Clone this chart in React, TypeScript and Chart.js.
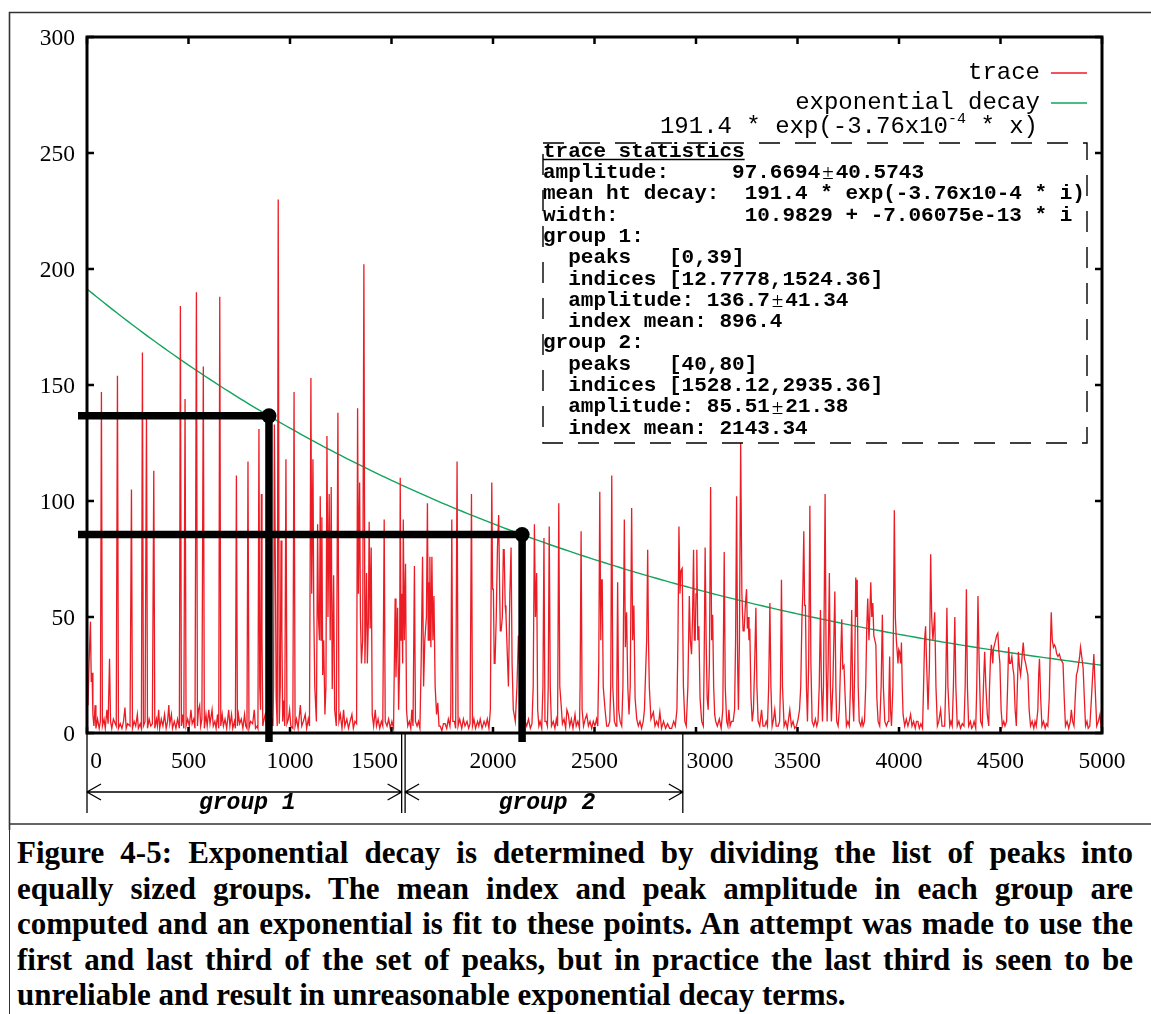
import React, { useEffect, useRef } from 'react';
import { Chart, registerables } from 'chart.js';

Chart.register(...registerables);

// ---- data ----
const X_TICKS = [0, 500, 1000, 1500, 2000, 2500, 3000, 3500, 4000, 4500, 5000];
const Y_TICKS = [0, 50, 100, 150, 200, 250, 300];

// detector trace: [sample index, height]
const TRACE: [number, number][] = [
  [0, 20], [5, 12], [10, 30], [17, 48], [21, 22], [25, 26], [29, 8], [34, 3], [40, 12], [44, 2], [52, 6], [60, 2],
  [66, 5], [71, 147], [76, 3], [84, 6], [90, 2], [98, 10], [104, 4], [111, 32], [116, 5], [122, 2], [130, 6],
  [144, 3], [150, 154], [155, 2], [164, 4], [172, 2], [180, 5], [187, 11], [193, 2], [200, 4], [212, 3],
  [219, 105], [224, 2], [232, 5], [240, 3], [248, 8], [253, 2], [262, 4],
  [268, 2], [273, 164], [278, 3], [286, 5], [293, 137], [298, 2], [306, 6], [314, 3], [322, 4],
  [329, 113], [334, 2], [342, 6], [347, 3], [353, 10], [358, 2], [366, 6], [374, 3], [382, 8], [390, 2],
  [397, 5], [403, 12], [408, 4], [416, 8], [421, 2], [430, 5], [438, 2], [446, 6],
  [455, 2], [460, 184], [465, 3], [471, 8], [477, 2], [483, 144], [488, 3], [496, 6], [504, 3], [512, 10], [518, 4], [526, 6], [532, 2],
  [539, 190], [544, 3], [549, 10], [555, 12], [560, 3], [566, 6], [573, 158], [578, 2], [586, 8], [592, 3], [600, 10], [606, 4], [616, 10], [622, 3], [630, 5], [636, 2], [643, 8], [649, 2],
  [654, 188], [659, 3], [666, 8], [672, 3], [680, 6], [688, 2], [698, 10], [704, 3], [712, 8], [718, 2], [726, 5],
  [731, 2], [736, 111], [741, 3], [746, 8], [752, 4], [760, 6], [768, 2], [776, 8], [782, 3], [788, 2], [793, 117], [798, 2], [806, 5], [816, 4], [824, 10], [830, 2], [838, 3],
  [842, 2], [847, 131], [851, 20], [855, 10], [859, 103], [862, 42], [866, 3],
  [870, 5], [878, 8], [884, 3], [892, 5], [900, 2], [910, 6], [916, 3],
  [919, 20], [923, 133], [927, 83], [932, 15], [937, 3], [942, 230], [947, 4], [952, 20], [956, 83], [960, 44], [964, 5], [969, 14], [974, 3],
  [980, 118], [985, 4], [992, 6], [998, 10], [1004, 3], [1014, 2], [1020, 147], [1025, 3], [1032, 6], [1040, 2], [1051, 12], [1058, 3], [1066, 5], [1075, 8], [1082, 2], [1090, 6], [1096, 3],
  [1103, 153], [1107, 60], [1113, 118], [1117, 54], [1122, 20], [1130, 5], [1136, 90], [1140, 50], [1145, 40], [1149, 102], [1153, 40], [1157, 93], [1161, 25], [1166, 40], [1172, 8], [1177, 20],
  [1182, 128], [1187, 50], [1193, 103], [1198, 40], [1203, 106], [1208, 19], [1215, 68], [1220, 10], [1228, 3], [1236, 138], [1241, 5], [1248, 8], [1256, 2], [1264, 10], [1270, 3], [1280, 6], [1288, 2], [1296, 5], [1305, 8], [1312, 2], [1320, 5], [1328, 4],
  [1333, 140], [1337, 60], [1343, 108], [1347, 50], [1352, 30], [1358, 40], [1364, 202], [1369, 30], [1373, 48], [1377, 69], [1381, 30], [1386, 48], [1390, 91], [1395, 45], [1400, 80], [1405, 8], [1412, 3], [1420, 10], [1426, 3], [1434, 6], [1442, 2], [1450, 5], [1457, 3],
  [1464, 92], [1469, 5], [1478, 3], [1486, 6], [1494, 2], [1502, 5], [1510, 2],
  [1518, 58], [1522, 24], [1526, 40], [1530, 54], [1535, 10], [1540, 30], [1543, 110], [1547, 40], [1551, 60], [1555, 30], [1558, 92], [1563, 40], [1569, 73], [1574, 10], [1580, 3], [1588, 5], [1595, 2], [1600, 10], [1606, 3],
  [1613, 72], [1618, 5], [1626, 3], [1633, 5], [1640, 2], [1646, 30], [1653, 76], [1658, 20], [1664, 40], [1672, 50], [1677, 99], [1681, 40], [1684, 65], [1686, 40], [1689, 76], [1694, 37], [1699, 76], [1704, 40], [1709, 59], [1715, 20], [1722, 8], [1728, 13], [1734, 3], [1740, 3], [1748, 1], [1756, 4], [1764, 4], [1772, 2], [1780, 6], [1788, 3],
  [1792, 8], [1797, 92], [1802, 5], [1810, 5], [1816, 2], [1823, 117], [1828, 3], [1836, 6], [1846, 2], [1854, 6], [1862, 3], [1872, 5], [1880, 2], [1887, 4],
  [1894, 103], [1899, 3], [1906, 6], [1914, 2], [1924, 5], [1930, 3], [1937, 6], [1946, 2], [1956, 5], [1964, 3], [1972, 6], [1980, 2], [1987, 10],
  [1994, 108], [1998, 62], [2002, 62], [2006, 30], [2010, 30], [2016, 50], [2022, 80], [2028, 94], [2033, 60], [2036, 44], [2040, 44], [2046, 50], [2051, 79], [2055, 79], [2060, 55], [2064, 51], [2070, 35], [2076, 20], [2083, 60], [2089, 80], [2094, 30], [2100, 10], [2110, 5], [2118, 20], [2125, 42], [2130, 30], [2137, 30], [2142, 35], [2147, 41], [2152, 15], [2158, 5],
  [2166, 3], [2175, 6], [2184, 2], [2192, 4], [2198, 20], [2204, 90], [2209, 50], [2215, 69], [2220, 10], [2226, 3], [2232, 5], [2240, 2], [2246, 20], [2251, 84], [2256, 5], [2262, 5], [2268, 3], [2272, 20], [2277, 89], [2282, 20], [2288, 3], [2297, 5], [2305, 2], [2312, 6], [2318, 3],
  [2324, 99], [2329, 20], [2335, 13], [2342, 4], [2350, 6], [2358, 2], [2364, 10], [2371, 8], [2378, 3], [2386, 6], [2394, 2], [2404, 8], [2410, 3], [2418, 5], [2426, 2],
  [2429, 20], [2434, 87], [2439, 10], [2446, 3], [2454, 6], [2462, 8], [2470, 3], [2478, 5], [2486, 2], [2494, 5], [2502, 3], [2510, 6], [2516, 3],
  [2521, 30], [2526, 104], [2531, 40], [2534, 66], [2538, 66], [2543, 20], [2552, 10], [2560, 3], [2568, 3], [2575, 5], [2580, 20], [2585, 111], [2590, 20], [2598, 5], [2606, 3], [2610, 20], [2614, 65], [2619, 10], [2626, 5], [2634, 3],
  [2640, 20], [2647, 92], [2652, 37], [2658, 52], [2664, 20], [2670, 8], [2676, 20], [2683, 97], [2688, 40], [2694, 55], [2700, 15], [2708, 6], [2716, 3], [2724, 5], [2732, 2], [2740, 5], [2746, 10], [2752, 27], [2757, 40], [2762, 79], [2766, 40], [2770, 20], [2778, 6],
  [2790, 9], [2798, 3], [2806, 5], [2814, 3], [2822, 9], [2830, 2], [2840, 5], [2850, 2], [2860, 4], [2870, 2], [2880, 2], [2890, 5], [2898, 3], [2906, 10],
  [2911, 40], [2916, 89], [2921, 60], [2926, 70], [2932, 71], [2938, 20], [2945, 5], [2952, 3], [2960, 20], [2967, 59], [2972, 40], [2978, 34], [2983, 50], [2988, 79], [2992, 40], [2996, 40], [3000, 60], [3004, 79], [3009, 40], [3014, 46], [3020, 15], [3028, 5], [3036, 3],
  [3040, 30], [3045, 80], [3050, 40], [3055, 15], [3060, 10], [3066, 30], [3072, 106], [3077, 40], [3082, 51], [3087, 20], [3092, 8], [3097, 5], [3105, 3], [3115, 6], [3124, 2], [3132, 10], [3139, 78], [3144, 20], [3151, 5], [3157, 3], [3162, 10], [3168, 3], [3175, 5], [3183, 5], [3190, 10],
  [3195, 40], [3200, 102], [3205, 30], [3209, 10], [3214, 40], [3220, 125], [3226, 60], [3232, 44], [3237, 44], [3243, 55], [3249, 62], [3253, 45], [3257, 50], [3261, 40], [3265, 45], [3271, 15], [3277, 5], [3283, 10], [3289, 30], [3295, 54], [3300, 20], [3306, 5], [3314, 3], [3323, 10], [3330, 3], [3339, 3], [3346, 5], [3352, 3],
  [3358, 20], [3364, 56], [3369, 20], [3375, 3], [3382, 6], [3388, 10], [3395, 3], [3405, 3], [3412, 5], [3416, 20], [3421, 66], [3426, 20], [3434, 3], [3442, 5], [3450, 2], [3456, 6], [3462, 10], [3470, 3], [3478, 5], [3486, 2], [3495, 3], [3503, 6], [3510, 10],
  [3516, 20], [3522, 50], [3526, 60], [3531, 87], [3535, 55], [3539, 55], [3544, 20], [3549, 5], [3555, 30], [3561, 98], [3566, 30], [3572, 5], [3580, 3], [3588, 6], [3595, 3], [3601, 5], [3607, 20], [3613, 53], [3618, 20], [3623, 5], [3628, 20], [3632, 60], [3636, 103], [3641, 30], [3646, 5],
  [3651, 30], [3657, 69], [3662, 20], [3667, 5], [3674, 20], [3679, 40], [3684, 61], [3689, 20], [3693, 5], [3700, 3], [3706, 10], [3712, 30], [3718, 49], [3723, 28], [3729, 29], [3735, 15], [3741, 3], [3748, 5], [3755, 3],
  [3761, 20], [3767, 53], [3772, 15], [3777, 5], [3782, 30], [3787, 67], [3791, 50], [3794, 66], [3799, 20], [3804, 5], [3812, 3], [3818, 6], [3823, 3], [3830, 5], [3836, 20], [3841, 45], [3846, 58], [3852, 40], [3856, 50], [3861, 65], [3866, 50], [3871, 56], [3876, 42], [3881, 40], [3886, 38], [3891, 15], [3897, 5], [3905, 3],
  [3912, 20], [3918, 51], [3923, 20], [3930, 5], [3938, 3], [3946, 5], [3950, 15], [3954, 33], [3958, 10], [3963, 3], [3970, 20], [3977, 96], [3982, 50], [3987, 40], [3991, 35], [3995, 30], [3999, 36], [4003, 35], [4008, 30], [4012, 39], [4016, 20], [4020, 8],
  [4028, 3], [4036, 6], [4044, 3], [4050, 5], [4057, 8], [4064, 3], [4072, 5], [4080, 2], [4086, 5], [4093, 5], [4100, 2], [4108, 4], [4116, 2],
  [4121, 20], [4126, 40], [4131, 46], [4136, 30], [4143, 10], [4150, 30], [4156, 77], [4161, 50], [4167, 40], [4171, 45], [4176, 52], [4182, 20], [4189, 3], [4196, 5], [4205, 10], [4212, 3], [4220, 3], [4225, 3],
  [4230, 20], [4236, 54], [4241, 20], [4250, 3], [4256, 5], [4262, 3], [4268, 20], [4275, 50], [4280, 20], [4287, 3], [4295, 5], [4303, 2], [4312, 4], [4320, 3], [4326, 20], [4332, 62], [4337, 20], [4343, 3], [4352, 5], [4358, 2], [4364, 3], [4370, 5], [4378, 2],
  [4383, 20], [4389, 59], [4395, 30], [4402, 5], [4410, 3], [4416, 20], [4422, 35], [4428, 20], [4435, 8], [4442, 3], [4446, 20], [4451, 33], [4455, 38], [4458, 38], [4462, 30], [4465, 36], [4470, 38], [4476, 40], [4481, 42], [4487, 43], [4492, 35], [4497, 30], [4503, 10], [4509, 3], [4516, 5], [4522, 3], [4530, 5],
  [4535, 20], [4540, 37], [4545, 30], [4550, 30], [4556, 33], [4561, 28], [4566, 25], [4572, 10], [4578, 3], [4583, 20], [4588, 35], [4594, 28], [4599, 25], [4604, 30], [4608, 35], [4612, 39], [4618, 32], [4624, 30], [4630, 27], [4635, 25], [4641, 10], [4648, 3], [4656, 5], [4664, 2], [4670, 5], [4676, 3],
  [4684, 10], [4688, 25], [4692, 32], [4698, 15], [4704, 3], [4712, 5], [4720, 2], [4726, 4], [4733, 3], [4740, 15], [4745, 35], [4750, 52], [4755, 40], [4761, 37], [4766, 38], [4771, 37], [4777, 34], [4783, 33], [4790, 34], [4796, 32], [4802, 31], [4808, 30], [4814, 15], [4820, 3],
  [4828, 5], [4836, 2], [4844, 5], [4849, 10], [4855, 5], [4862, 3], [4868, 15], [4874, 25], [4880, 27], [4885, 30], [4890, 33], [4894, 37], [4900, 33], [4907, 28], [4913, 15], [4919, 3], [4926, 5], [4932, 2], [4940, 3], [4948, 15], [4954, 25], [4960, 34], [4966, 20], [4974, 3], [4982, 5], [4990, 8], [4995, 3], [5000, 4],
];

// fitted decay: FIT_AMPLITUDE * exp(-FIT_RATE * x)
const FIT_AMPLITUDE = 191.4;
const FIT_RATE = 3.76e-4;
const FIT_STEP = 25;

// per-group means (index, amplitude) and bracketed index spans
const GROUP_INDEX_MEAN = [896.4, 2143.34];
const GROUP_AMPLITUDE = [136.7, 85.51];
const GROUP_SPANS: [number, number][] = [[0, 1550], [1567, 2935]];
const GROUP_LABELS = ['group 1', 'group 2'];

const STATS_TITLE = 'trace statistics';
const STATS_LINES = [
  'amplitude:     97.6694±40.5743',
  'mean ht decay:  191.4 * exp(-3.76x10-4 * i)',
  'width:          10.9829 + -7.06075e-13 * i',
  'group 1:',
  '  peaks   [0,39]',
  '  indices [12.7778,1524.36]',
  '  amplitude: 136.7±41.34',
  '  index mean: 896.4',
  'group 2:',
  '  peaks   [40,80]',
  '  indices [1528.12,2935.36]',
  '  amplitude: 85.51±21.38',
  '  index mean: 2143.34',
];

const CAPTION_LINES = [
  'Figure 4-5: Exponential decay is determined by dividing the list of peaks into',
  'equally sized groups. The mean index and peak amplitude in each group are',
  'computed and an exponential is fit to these points. An attempt was made to use the',
  'first and last third of the set of peaks, but in practice the last third is seen to be',
  'unreliable and result in unreasonable exponential decay terms.',
];

// ---- styles ----
const RED = '#ec1c24';
const GREEN = '#12a45c';
const SERIF = '"Liberation Serif", "Times New Roman", serif';
const MONO = '"Liberation Mono", "Courier New", monospace';
const X_LABEL_SHIFT = [9, 0, 0, -17, 0, 0, 14, 0, 0, 0, 0];
const BOX = { left: 543, top: 143, right: 1087, bottom: 443, firstLine: 151.5, lineStep: 21.3 };

const fitPoints = () => {
  const pts: { x: number; y: number }[] = [];
  for (let x = 0; x <= 5000; x += FIT_STEP) pts.push({ x, y: FIT_AMPLITUDE * Math.exp(-FIT_RATE * x) });
  return pts;
};

const figurePlugin = {
  id: 'figureDecor',
  beforeDraw(chart: any) {
    const ctx = chart.ctx as CanvasRenderingContext2D;
    ctx.save();
    ctx.fillStyle = '#fff';
    ctx.fillRect(0, 0, chart.width, chart.height);
    ctx.restore();
  },
  afterDraw(chart: any) {
    const ctx = chart.ctx as CanvasRenderingContext2D;
    const xs = chart.scales.x;
    const ys = chart.scales.y;
    const area = chart.chartArea;
    ctx.save();

    // outer figure frame
    ctx.strokeStyle = '#333';
    ctx.lineWidth = 1.6;
    ctx.beginPath();
    ctx.moveTo(9.5, 1014);
    ctx.lineTo(9.5, 12.5);
    ctx.lineTo(1151, 12.5);
    ctx.moveTo(9.5, 824);
    ctx.lineTo(1151, 824);
    ctx.stroke();

    // axes box
    ctx.strokeStyle = '#000';
    ctx.lineWidth = 3;
    ctx.strokeRect(area.left, area.top, area.right - area.left, area.bottom - area.top);

    // inward ticks
    ctx.lineWidth = 2.5;
    ctx.beginPath();
    X_TICKS.forEach((v) => {
      const px = xs.getPixelForValue(v);
      ctx.moveTo(px, area.top);
      ctx.lineTo(px, area.top + 7);
      ctx.moveTo(px, area.bottom);
      ctx.lineTo(px, area.bottom - 6);
    });
    Y_TICKS.forEach((v) => {
      const py = ys.getPixelForValue(v);
      ctx.moveTo(area.left, py);
      ctx.lineTo(area.left + 7, py);
      ctx.moveTo(area.right, py);
      ctx.lineTo(area.right - 7, py);
    });
    ctx.stroke();

    // tick labels
    ctx.fillStyle = '#000';
    ctx.font = `23.5px ${SERIF}`;
    ctx.textBaseline = 'alphabetic';
    ctx.textAlign = 'right';
    Y_TICKS.forEach((v) => {
      ctx.fillText(String(v), 75, ys.getPixelForValue(v) + 7.5);
    });
    ctx.textAlign = 'center';
    X_TICKS.forEach((v, i) => {
      ctx.fillText(String(v), xs.getPixelForValue(v) + X_LABEL_SHIFT[i], 768);
    });

    // group brackets under the axis
    ctx.lineWidth = 1.3;
    ctx.strokeStyle = '#000';
    const arrowY = 792;
    GROUP_SPANS.forEach(([a, b], i) => {
      const x0 = xs.getPixelForValue(a);
      const x1 = xs.getPixelForValue(b);
      ctx.beginPath();
      ctx.moveTo(x0, area.bottom + 1);
      ctx.lineTo(x0, 813);
      ctx.moveTo(x1, area.bottom + 1);
      ctx.lineTo(x1, 813);
      ctx.moveTo(x0, arrowY);
      ctx.lineTo(x1, arrowY);
      ctx.moveTo(x0 + 14, arrowY - 8);
      ctx.lineTo(x0, arrowY);
      ctx.lineTo(x0 + 14, arrowY + 8);
      ctx.moveTo(x1 - 14, arrowY - 8);
      ctx.lineTo(x1, arrowY);
      ctx.lineTo(x1 - 14, arrowY + 8);
      ctx.stroke();
      ctx.font = `italic bold 23px ${MONO}`;
      ctx.textAlign = 'center';
      ctx.fillText(GROUP_LABELS[i], (x0 + x1) / 2 + 3, 809);
    });

    // group mean markers
    ctx.fillStyle = '#000';
    ctx.strokeStyle = '#000';
    ctx.lineWidth = 7.5;
    ctx.lineCap = 'butt';
    GROUP_INDEX_MEAN.forEach((m, i) => {
      const px = xs.getPixelForValue(m);
      const py = ys.getPixelForValue(GROUP_AMPLITUDE[i]);
      ctx.beginPath();
      ctx.moveTo(area.left - 9, py);
      ctx.lineTo(px, py);
      ctx.moveTo(px, py);
      ctx.lineTo(px, area.bottom + 9);
      ctx.stroke();
      ctx.beginPath();
      ctx.arc(px, py, 7.5, 0, Math.PI * 2);
      ctx.fill();
    });

    // legend
    ctx.font = `24px ${MONO}`;
    ctx.textAlign = 'right';
    ctx.textBaseline = 'middle';
    ctx.fillStyle = '#000';
    const legend: [string, string, number][] = [
      ['trace', RED, 73],
      ['exponential decay', GREEN, 103],
    ];
    legend.forEach(([label, color, y]) => {
      ctx.fillText(label, 1040, y);
      ctx.strokeStyle = color;
      ctx.lineWidth = 1.5;
      ctx.beginPath();
      ctx.moveTo(1051, y);
      ctx.lineTo(1087, y);
      ctx.stroke();
    });
    // fit formula with superscript exponent
    const base = `${FIT_AMPLITUDE} * exp(-3.76x10`;
    const sup = '-4';
    const tail = ' * x)';
    ctx.textAlign = 'left';
    ctx.font = `24px ${MONO}`;
    const wBase = ctx.measureText(base).width;
    const wTail = ctx.measureText(tail).width;
    ctx.font = `15px ${MONO}`;
    const wSup = ctx.measureText(sup).width;
    let fx = 1038 - (wBase + wSup + wTail);
    const fy = 127;
    ctx.font = `24px ${MONO}`;
    ctx.fillText(base, fx, fy);
    fx += wBase;
    ctx.font = `15px ${MONO}`;
    ctx.fillText(sup, fx, fy - 8);
    fx += wSup;
    ctx.font = `24px ${MONO}`;
    ctx.fillText(tail, fx, fy);

    // statistics box
    ctx.strokeStyle = '#000';
    ctx.lineWidth = 1.4;
    ctx.setLineDash([21, 15]);
    ctx.strokeRect(BOX.left, BOX.top, BOX.right - BOX.left, BOX.bottom - BOX.top);
    ctx.setLineDash([]);
    ctx.font = `bold 21px ${MONO}`;
    ctx.textBaseline = 'middle';
    ctx.textAlign = 'left';
    ctx.fillText(STATS_TITLE, BOX.left, BOX.firstLine);
    const wTitle = ctx.measureText(STATS_TITLE).width;
    ctx.lineWidth = 1.5;
    ctx.beginPath();
    ctx.moveTo(BOX.left, BOX.firstLine + 8);
    ctx.lineTo(BOX.left + wTitle, BOX.firstLine + 8);
    ctx.stroke();
    STATS_LINES.forEach((line, i) => {
      const y = BOX.firstLine + (i + 1) * BOX.lineStep;
      const parts = line.split('±');
      let x = BOX.left;
      parts.forEach((p, k) => {
        ctx.font = `bold 21px ${MONO}`;
        ctx.fillText(p, x, y);
        x += ctx.measureText(p).width;
        if (k < parts.length - 1) {
          ctx.font = `21px ${SERIF}`;
          x += 2;
          ctx.fillText('±', x, y + 1);
          x += ctx.measureText('±').width + 2;
        }
      });
    });

    ctx.restore();
  },
};

export default function App() {
  const ref = useRef<HTMLCanvasElement>(null);

  useEffect(() => {
    if (!ref.current) return;
    const chart = new Chart(ref.current, {
      type: 'line',
      data: {
        datasets: [
          {
            label: 'trace',
            data: TRACE.map(([x, y]) => ({ x, y })),
            borderColor: RED,
            borderWidth: 1.3,
            pointRadius: 0,
            tension: 0,
            fill: false,
          },
          {
            label: 'exponential decay',
            data: fitPoints(),
            borderColor: GREEN,
            borderWidth: 1.4,
            pointRadius: 0,
            tension: 0,
            fill: false,
          },
        ],
      },
      options: {
        animation: false,
        responsive: false,
        devicePixelRatio: 1,
        layout: { padding: { left: 87, top: 37, right: 49, bottom: 97 } },
        plugins: { legend: { display: false }, tooltip: { enabled: false } },
        scales: {
          x: { type: 'linear', min: 0, max: 5000, display: false },
          y: { type: 'linear', min: 0, max: 300, display: false },
        },
      },
      plugins: [figurePlugin],
    } as any);
    return () => chart.destroy();
  }, []);

  return (
    <div style={{ position: 'absolute', left: 0, top: 0, width: 1151, height: 1014, background: '#fff', overflow: 'hidden' }}>
      <canvas ref={ref} width={1151} height={830} style={{ position: 'absolute', left: 0, top: 0, width: 1151, height: 830 }} />
      <div style={{ position: 'absolute', left: 8.7, top: 825, width: 1.6, height: 189, background: '#333' }} />
      {CAPTION_LINES.map((line, i) => (
        <div
          key={i}
          style={{
            position: 'absolute',
            left: 17,
            top: 835 + i * 35.5,
            width: 1116,
            font: `bold 31px ${SERIF}`,
            lineHeight: '35.5px',
            height: '35.5px',
            color: '#000',
            textAlign: 'justify',
            textAlignLast: i < CAPTION_LINES.length - 1 ? 'justify' : 'left',
          } as React.CSSProperties}
        >
          {line}
        </div>
      ))}
    </div>
  );
}
